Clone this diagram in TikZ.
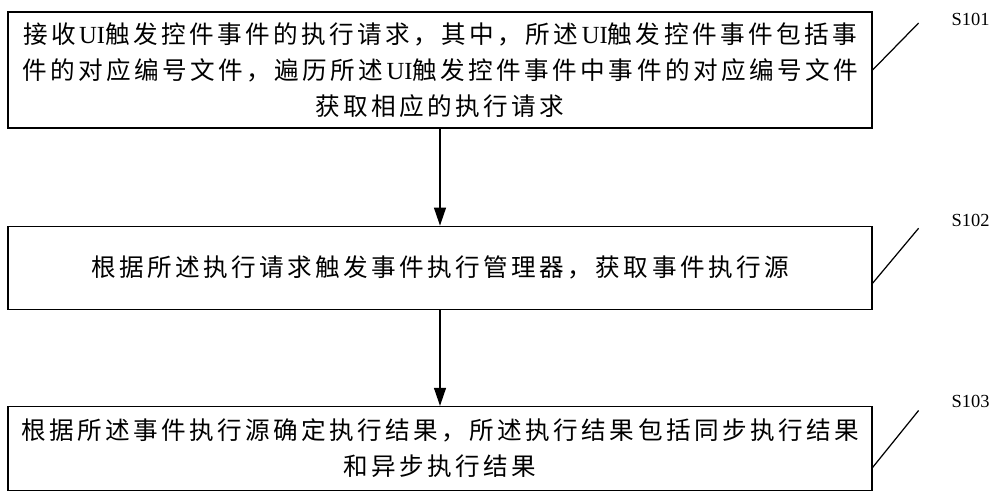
\documentclass[tikz,border=0pt]{standalone}
\usepackage{fontspec}
\setmainfont{Liberation Serif}
\newfontfamily\cjk{Noto Sans CJK SC}[LetterSpace=14]
\usepackage{tikz}
\usetikzlibrary{
	arrows.meta,
	calc,
	positioning,
	}

\tikzset{
	stepbox/.style={draw, line width=0.7pt, minimum width=17.28cm, inner sep=0pt, align=center, font=\cjk\fontsize{14}{20.5}\selectfont},
	steplabel/.style={inner sep=0pt, font=\fontsize{10.5}{12}\selectfont},
	flow/.style={line width=0.7pt, -{Triangle[length=0.36cm, width=0.24cm]}},
	tick/.style={line width=0.7pt},
}

\begin{document}
\begin{tikzpicture}
		\useasboundingbox (0,0) rectangle (20,9.94);
		\node[stepbox, minimum height=2.32cm] (b1) at (8.8,8.54) {接收\textrm{UI}触发控件事件的执行请求，其中，所述\textrm{UI}触发控件事件包括事\\件的对应编号文件，遍历所述\textrm{UI}触发控件事件中事件的对应编号文件\\获取相应的执行请求};
		\node[stepbox, minimum height=1.66cm, below = 1.94cm of b1] (b2) {根据所述执行请求触发事件执行管理器，获取事件执行源};
		\node[stepbox, minimum height=1.68cm, below = 1.92cm of b2] (b3) {根据所述事件执行源确定执行结果，所述执行结果包括同步执行结果\\和异步执行结果};
		\draw[flow] (b1) -- (b2);
		\draw[flow] (b2) -- (b3);
		% step numbers
		\coordinate (t1a) at (b1.east);
		\coordinate (t1b) at ($(b1.east)+(0.92,0.94)$);
		\coordinate (t2a) at ($(b2.east)+(0,-0.31)$);
		\coordinate (t2b) at ($(b2.east)+(0.92,0.79)$);
		\coordinate (t3a) at ($(b3.east)+(0,-0.38)$);
		\coordinate (t3b) at ($(b3.east)+(0.92,0.76)$);
		\draw[tick] (t1a) -- (t1b);
		\draw[tick] (t2a) -- (t2b);
		\draw[tick] (t3a) -- (t3b);
		\node[steplabel] (s101) at ($(b1.east)+(1.96,1.02)$) {S101};
		\node[steplabel] (s102) at ($(b2.east)+(1.96,0.95)$) {S102};
		\node[steplabel] (s103) at ($(b3.east)+(1.96,0.94)$) {S103};
	\end{tikzpicture}
\end{document}
